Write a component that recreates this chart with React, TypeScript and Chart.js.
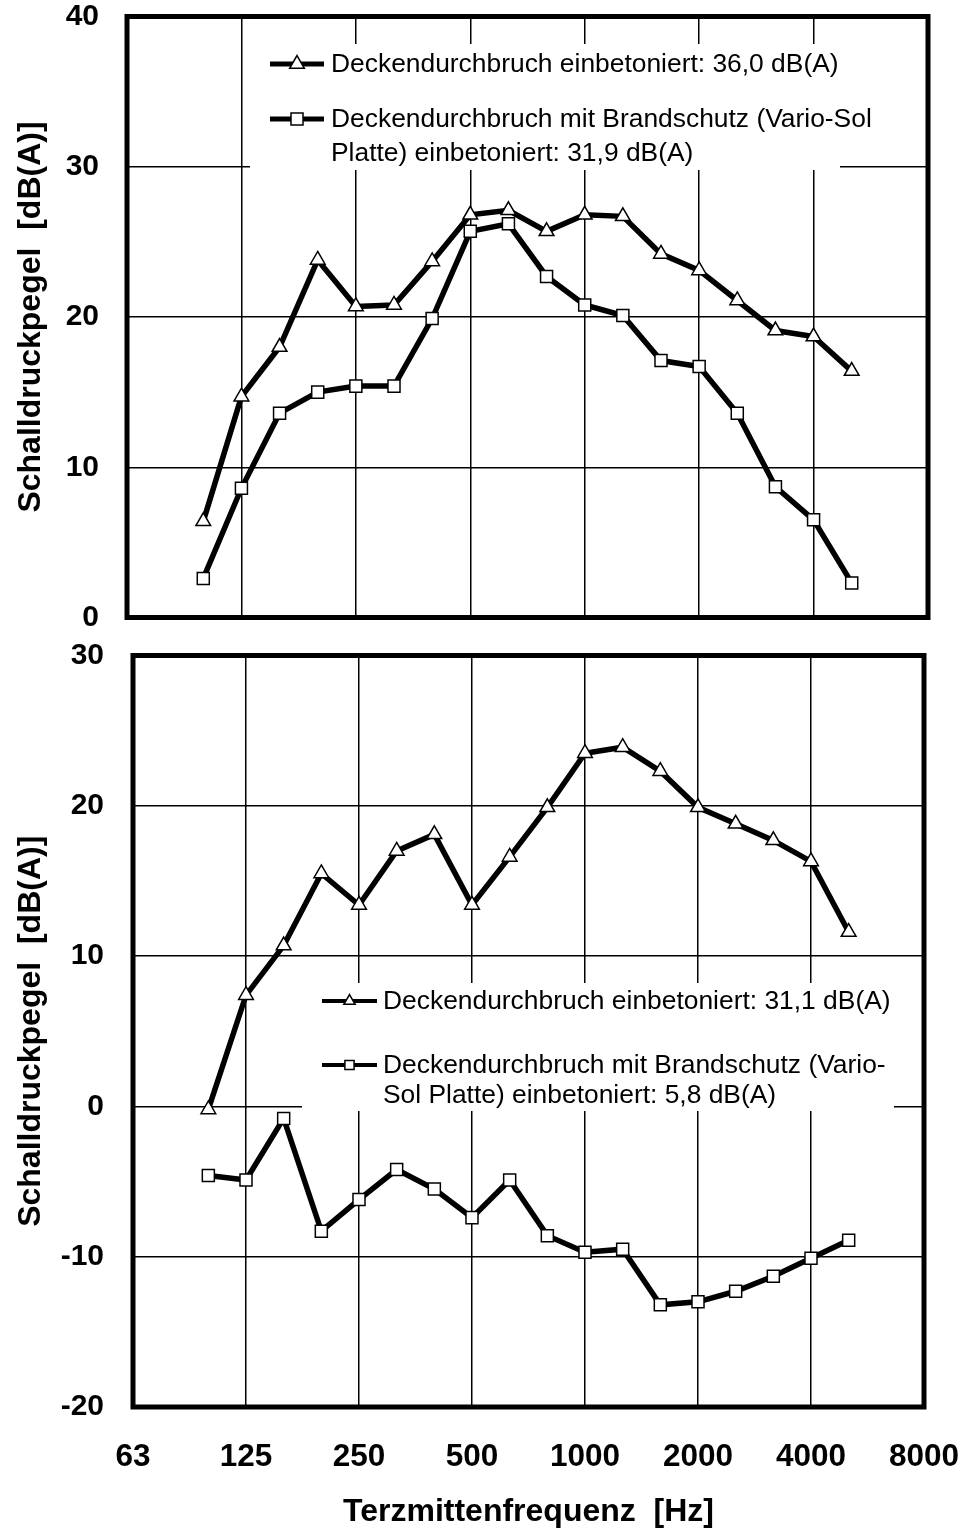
import React, { useEffect, useRef } from 'react';
import { Chart, registerables } from 'chart.js';

Chart.register(...registerables);

// Third-octave band centre frequencies shown on the axis (63 Hz ... 8000 Hz)
const bands = ['63', '80', '100', '125', '160', '200', '250', '315', '400', '500', '630', '800', '1000', '1250', '1600', '2000', '2500', '3150', '4000', '5000', '6300', '8000'];
// Octave tick labels
const octaveTicks = ['63', '125', '250', '500', '1000', '2000', '4000', '8000'];
// Measured bands
const measuredBands = ['100', '125', '160', '200', '250', '315', '400', '500', '630', '800', '1000', '1250', '1600', '2000', '2500', '3150', '4000', '5000'];

// Upper panel
const topTriangle = [6.4, 14.7, 18.0, 23.8, 20.7, 20.8, 23.7, 26.8, 27.1, 25.7, 26.8, 26.7, 24.2, 23.1, 21.1, 19.1, 18.7, 16.4];
const topSquare = [2.6, 8.6, 13.6, 15.0, 15.4, 15.4, 19.9, 25.7, 26.2, 22.7, 20.8, 20.1, 17.1, 16.7, 13.6, 8.7, 6.5, 2.3];
// Lower panel
const bottomTriangle = [-0.2, 7.4, 10.7, 15.5, 13.4, 17.0, 18.1, 13.4, 16.6, 19.9, 23.5, 23.9, 22.3, 19.9, 18.8, 17.7, 16.3, 11.6];
const bottomSquare = [-4.6, -4.9, -0.8, -8.3, -6.2, -4.2, -5.5, -7.4, -4.9, -8.6, -9.7, -9.5, -13.2, -13.0, -12.3, -11.3, -10.1, -8.9];

const topYTicks = [0, 10, 20, 30, 40];
const bottomYTicks = [-20, -10, 0, 10, 20, 30];

const topLegendTriangle = ['Deckendurchbruch einbetoniert: 36,0 dB(A)'];
const topLegendSquare = ['Deckendurchbruch mit Brandschutz (Vario-Sol', 'Platte) einbetoniert: 31,9 dB(A)'];
const bottomLegendTriangle = ['Deckendurchbruch einbetoniert: 31,1 dB(A)'];
const bottomLegendSquare = ['Deckendurchbruch mit Brandschutz (Vario-', 'Sol Platte) einbetoniert: 5,8 dB(A)'];

const yTitle = 'Schalldruckpegel  [dB(A)]';
const xTitle = 'Terzmittenfrequenz  [Hz]';

const FONT = '"Liberation Sans", Arial, Helvetica, sans-serif';
const CLEAR = 'rgba(0,0,0,0)';

function drawMarker(ctx: CanvasRenderingContext2D, style: string, x: number, y: number, r: number) {
  ctx.save();
  ctx.fillStyle = '#fff';
  ctx.strokeStyle = '#000';
  ctx.lineWidth = 1.5;
  ctx.beginPath();
  if (style === 'triangle') {
    let rad = 0;
    ctx.moveTo(x + Math.sin(rad) * r, y - Math.cos(rad) * r);
    rad += (2 * Math.PI) / 3;
    ctx.lineTo(x + Math.sin(rad) * r, y - Math.cos(rad) * r);
    rad += (2 * Math.PI) / 3;
    ctx.lineTo(x + Math.sin(rad) * r, y - Math.cos(rad) * r);
    ctx.closePath();
  } else {
    const s = r / Math.SQRT2;
    ctx.rect(x - s, y - s, 2 * s, 2 * s);
  }
  ctx.fill();
  ctx.stroke();
  ctx.restore();
}

const panelPlugin = {
  id: 'panelDecor',
  beforeDatasetsDraw(chart: any, _args: any, opts: any) {
    const ctx: CanvasRenderingContext2D = chart.ctx;
    const b = opts.box;
    ctx.save();
    ctx.fillStyle = '#fff';
    ctx.fillRect(b.x, b.y, b.w, b.h);
    chart.data.datasets.forEach((ds: any, i: number) => {
      const it = opts.items[i];
      ctx.strokeStyle = '#000';
      ctx.lineWidth = opts.lineWidth;
      ctx.beginPath();
      ctx.moveTo(opts.symX1, it.symY);
      ctx.lineTo(opts.symX2, it.symY);
      ctx.stroke();
      drawMarker(ctx, ds.pointStyle, (opts.symX1 + opts.symX2) / 2, it.symY, opts.markerR);
      ctx.fillStyle = '#000';
      ctx.font = `${opts.fontSize}px ${FONT}`;
      ctx.textBaseline = 'middle';
      ctx.textAlign = 'left';
      it.lines.forEach((t: string, k: number) => {
        ctx.fillText(t, opts.textX, it.textY + k * opts.lineGap);
      });
    });
    ctx.restore();
  },
  afterDraw(chart: any) {
    const ctx: CanvasRenderingContext2D = chart.ctx;
    const { left, top, right, bottom } = chart.chartArea;
    ctx.save();
    ctx.strokeStyle = '#000';
    ctx.lineWidth = 5;
    ctx.strokeRect(left, top, right - left, bottom - top);
    ctx.restore();
  },
};

function series(label: string, values: number[], style: string, r: number) {
  return {
    label,
    data: measuredBands.map((f, i) => ({ x: f, y: values[i] })),
    borderColor: '#000',
    borderWidth: 5.5,
    pointStyle: style,
    pointRadius: r,
    pointHoverRadius: r,
    pointBackgroundColor: '#fff',
    pointBorderColor: '#000',
    pointBorderWidth: 1.5,
    tension: 0,
    fill: false,
  };
}

function makeConfig(p: any) {
  return {
    type: 'line',
    data: {
      labels: bands,
      datasets: [
        series(p.triLabel.join(' '), p.tri, 'triangle', 8.5),
        series(p.sqLabel.join(' '), p.sq, 'rect', 8.5),
      ],
    },
    plugins: [panelPlugin],
    options: {
      responsive: false,
      animation: false,
      devicePixelRatio: 1,
      layout: { padding: { left: 0, right: p.padRight, top: p.padTop, bottom: 0 } },
      plugins: {
        legend: { display: false },
        tooltip: { enabled: false },
        panelDecor: p.legend,
      },
      scales: {
        x: {
          type: 'category',
          offset: false,
          grid: {
            offset: false,
            drawTicks: true,
            tickLength: p.xTickGap,
            tickColor: CLEAR,
            lineWidth: 1.5,
            color: (c: any) => (octaveTicks.includes(bands[c.index]) ? '#000' : CLEAR),
          },
          border: { display: false },
          ticks: {
            display: p.showX,
            autoSkip: false,
            maxRotation: 0,
            minRotation: 0,
            padding: 0,
            color: '#000',
            font: { family: FONT, size: 31.5, weight: 'bold', lineHeight: 1 },
            callback: (_v: any, i: number) => (octaveTicks.includes(bands[i]) ? bands[i] : ''),
          },
          title: {
            display: p.showX,
            text: xTitle,
            color: '#000',
            font: { family: FONT, size: 32, weight: 'bold', lineHeight: 1 },
            padding: { top: 0, bottom: 6 },
          },
          afterFit: (s: any) => {
            s.height = p.xHeight;
          },
        },
        y: {
          min: p.yTicks[0],
          max: p.yTicks[p.yTicks.length - 1],
          afterBuildTicks: (s: any) => {
            s.ticks = p.yTicks.map((v: number) => ({ value: v }));
          },
          grid: { drawTicks: true, tickLength: p.yTickGap, tickColor: CLEAR, lineWidth: 1.5, color: '#000' },
          border: { display: false },
          ticks: {
            padding: 0,
            color: '#000',
            font: { family: FONT, size: 30, weight: 'bold', lineHeight: 1 },
          },
          title: {
            display: true,
            text: yTitle,
            color: '#000',
            font: { family: FONT, size: 32, weight: 'bold', lineHeight: 1 },
            padding: { top: 15, bottom: 0 },
          },
          afterFit: (s: any) => {
            s.width = p.yWidth;
          },
        },
      },
    },
  };
}

const topPanel = {
  tri: topTriangle,
  sq: topSquare,
  triLabel: topLegendTriangle,
  sqLabel: topLegendSquare,
  yTicks: topYTicks,
  showX: false,
  xTickGap: 0,
  yTickGap: 28,
  xHeight: 22.5,
  yWidth: 127,
  padRight: 33,
  padTop: 16.5,
  legend: {
    box: { x: 250, y: 44, w: 590, h: 126 },
    symX1: 270,
    symX2: 324,
    markerR: 8.5,
    lineWidth: 5,
    textX: 331,
    fontSize: 26.4,
    lineGap: 34,
    items: [
      { symY: 64, textY: 65, lines: topLegendTriangle },
      { symY: 119, textY: 120, lines: topLegendSquare },
    ],
  },
};

const bottomPanel = {
  tri: bottomTriangle,
  sq: bottomSquare,
  triLabel: bottomLegendTriangle,
  sqLabel: bottomLegendSquare,
  yTicks: bottomYTicks,
  showX: true,
  xTickGap: 35,
  yTickGap: 29,
  xHeight: 127,
  yWidth: 133,
  padRight: 37,
  padTop: 15.5,
  legend: {
    box: { x: 302, y: 343, w: 592, h: 128 },
    symX1: 322,
    symX2: 377,
    markerR: 6.5,
    lineWidth: 4,
    textX: 383,
    fontSize: 26.4,
    lineGap: 30,
    items: [
      { symY: 361, textY: 362, lines: bottomLegendTriangle },
      { symY: 425, textY: 426, lines: bottomLegendSquare },
    ],
  },
};

function Panel({ cfg, height }: { cfg: any; height: number }) {
  const ref = useRef<HTMLCanvasElement | null>(null);
  useEffect(() => {
    if (!ref.current) return;
    const chart = new Chart(ref.current, makeConfig(cfg) as any);
    return () => chart.destroy();
  }, [cfg]);
  return <canvas ref={ref} width={961} height={height} style={{ display: 'block', width: 961, height }} />;
}

export default function App() {
  return (
    <div style={{ position: 'absolute', left: 0, top: 0, width: 961, height: 1534, background: '#fff' }}>
      <Panel cfg={topPanel} height={640} />
      <Panel cfg={bottomPanel} height={894} />
    </div>
  );
}
